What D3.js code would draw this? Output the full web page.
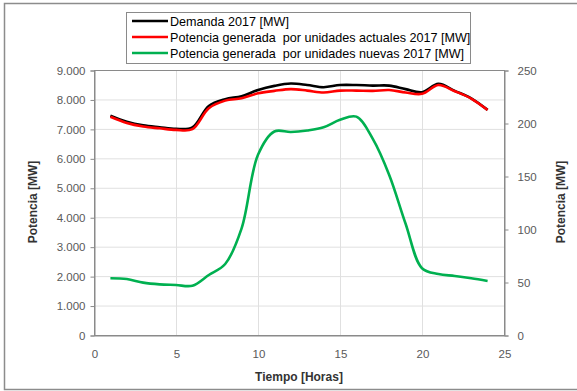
<!DOCTYPE html>
<html><head><meta charset="utf-8">
<script src="https://cdn.jsdelivr.net/npm/d3@7"></script>
<style>body{margin:0;background:#fff}svg{display:block}text{font-family:"Liberation Sans",Arial,sans-serif}</style>
</head><body><svg id="c" width="577" height="391"></svg>
<script>
const hours = [1,2,3,4,5,6,7,8,9,10,11,12,13,14,15,16,17,18,19,20,21,22,23,24];
const demanda = [7450,7245,7120,7055,7000,7050,7780,8010,8110,8320,8460,8540,8490,8415,8490,8490,8470,8470,8350,8245,8530,8290,8040,7645];
const actuales = [7410,7200,7080,7020,6965,6990,7700,7960,8040,8210,8290,8350,8300,8235,8300,8300,8290,8320,8235,8190,8490,8280,8030,7640];
const nuevas = [53.5,52.8,49.4,47.8,47.2,46.5,56.6,67,100.6,170,192,191.5,193,196,203,206,185,151,105,63,57.5,55.7,53.5,51];
const xTicks = [0,5,10,15,20,25];
const yLeftTicks = [0,1000,2000,3000,4000,5000,6000,7000,8000,9000];
const yRightTicks = [0,50,100,150,200,250];
const legendLabels = ["Demanda 2017 [MW]","Potencia generada  por unidades actuales 2017 [MW]","Potencia generada  por unidades nuevas 2017 [MW]"];
const colors = ["#000000","#ff0000","#00b050"];

const svg = d3.select("#c");
const L=94,R=504,T=70,B=335;
const x = d3.scaleLinear().domain([0,25]).range([L,R]);
const yL = d3.scaleLinear().domain([0,9000]).range([B,T]);
const yR = d3.scaleLinear().domain([0,250]).range([B,T]);
const fmt = d => d3.format(",")(d).replace(/,/g,".");

// outer frame
svg.append("rect").attr("x",4.5).attr("y",3.5).attr("width",620).attr("height",386)
  .attr("fill","none").attr("stroke","#8c8c8c").attr("stroke-width",1.5);

// gridlines
svg.append("g").selectAll("line").data(yLeftTicks).join("line")
  .attr("x1",L).attr("x2",R).attr("y1",d=>yL(d)+0.5).attr("y2",d=>yL(d)+0.5)
  .attr("stroke","#e0e0e0").attr("stroke-width",1);
svg.append("g").selectAll("line").data(xTicks).join("line")
  .attr("y1",T).attr("y2",B).attr("x1",d=>x(d)+0.5).attr("x2",d=>x(d)+0.5)
  .attr("stroke","#e0e0e0").attr("stroke-width",1);

// plot border
svg.append("rect").attr("x",L+0.5).attr("y",T+0.5).attr("width",R-L).attr("height",B-T)
  .attr("fill","none").attr("stroke","#8a8a8a").attr("stroke-width",1);

// axes
const axL = d3.axisLeft(yL).tickValues(yLeftTicks).tickFormat(fmt).tickSize(4).tickPadding(5);
const axR = d3.axisRight(yR).tickValues(yRightTicks).tickSize(4).tickPadding(9);
const axB = d3.axisBottom(x).tickValues(xTicks).tickSize(0).tickPadding(14);
function style(g){g.select(".domain").attr("stroke","#8a8a8a");g.selectAll(".tick line").attr("stroke","#8a8a8a");
  g.selectAll("text").attr("fill","#595959").style("font-size","11.5px");}
svg.append("g").attr("transform",`translate(${L+0.5},0.5)`).call(axL).call(style);
svg.append("g").attr("transform",`translate(${R+0.5},0.5)`).call(axR).call(style);
svg.append("g").attr("transform",`translate(0.5,${B+0.5})`).call(axB).call(style);

// titles
svg.append("text").attr("x",299).attr("y",381).attr("text-anchor","middle")
  .style("font-size","12px").style("font-weight","bold").attr("fill","#333").text("Tiempo [Horas]");
svg.append("text").attr("transform","translate(37,202) rotate(-90)").attr("text-anchor","middle")
  .style("font-size","12px").style("font-weight","bold").attr("fill","#333").text("Potencia [MW]");
svg.append("text").attr("transform","translate(565,202) rotate(-90)").attr("text-anchor","middle")
  .style("font-size","12px").style("font-weight","bold").attr("fill","#333").text("Potencia [MW]");

// lines
const curve = d3.curveCatmullRom.alpha(0.5);
const lineL = d3.line().x((d,i)=>x(hours[i])).y(d=>yL(d)).curve(curve);
const lineR = d3.line().x((d,i)=>x(hours[i])).y(d=>yR(d)).curve(curve);
svg.append("path").attr("d",lineL(demanda)).attr("fill","none").attr("stroke",colors[0]).attr("stroke-width",2.6);
svg.append("path").attr("d",lineL(actuales)).attr("fill","none").attr("stroke",colors[1]).attr("stroke-width",2.6);
svg.append("path").attr("d",lineR(nuevas)).attr("fill","none").attr("stroke",colors[2]).attr("stroke-width",2.6);

// legend
const lg = svg.append("g");
lg.append("rect").attr("x",126.5).attr("y",12.5).attr("width",344).attr("height",51)
  .attr("fill","#fff").attr("stroke","#8a8a8a").attr("stroke-width",1);
legendLabels.forEach((t,i)=>{
  const yy = 21 + i*16;
  lg.append("line").attr("x1",132).attr("x2",168).attr("y1",yy).attr("y2",yy)
    .attr("stroke",colors[i]).attr("stroke-width",2.6);
  lg.append("text").attr("x",170).attr("y",yy+4.5).style("font-size","12.6px").style("white-space","pre")
    .attr("fill","#000").text(t);
});
</script></body></html>
